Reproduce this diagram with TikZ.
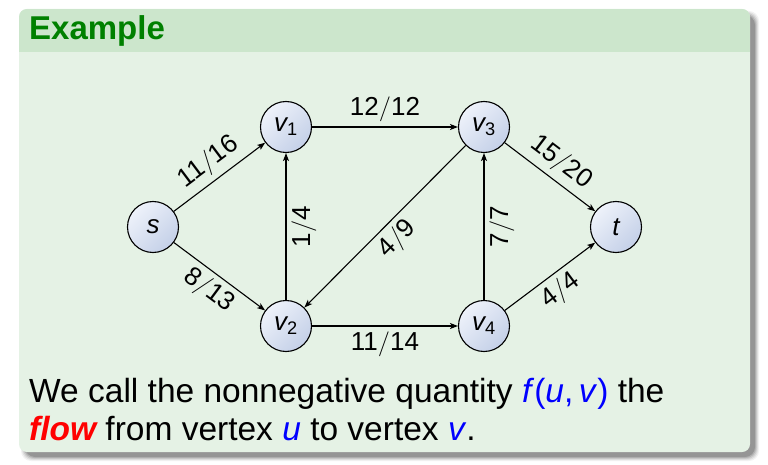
\documentclass[tikz,border=0pt]{standalone}
\usepackage[no-math]{fontspec}
\setmainfont{Liberation Sans}
\usetikzlibrary{arrows.meta}
\definecolor{exgreen}{RGB}{0,128,0}
\definecolor{extitle}{RGB}{204,230,204}
\definecolor{exbody}{RGB}{229,242,229}
\definecolor{balltop}{RGB}{238,242,250}
\definecolor{ballbot}{RGB}{196,208,232}
\newcommand{\fl}[2]{#1$/$#2}
\begin{document}
\begin{tikzpicture}[x=1pt,y=-1pt,
  vert/.style={circle, draw=black, line width=1.1pt, minimum size=51pt, inner sep=0pt,
    top color=balltop, bottom color=ballbot, shading angle=45,
    font=\fontsize{26}{26}\selectfont\itshape},
  flowedge/.style={draw=black, line width=1.1pt, -{Stealth[length=8pt,width=6pt,inset=2pt]}},
  flowlbl/.style={font=\fontsize{26}{26}\selectfont, sloped, midway, inner sep=5pt},
  bodytext/.style={anchor=base west, inner sep=0pt, font=\fontsize{33.5}{37}\selectfont}]
\useasboundingbox (0,0) rectangle (768,465);
\fill[white] (0,0) rectangle (768,465);
% shadow
\foreach \e/\o in {4/0.05, 3/0.07, 2/0.09, 1/0.12, 0/0.16} {
  \fill[black, opacity=\o, rounded corners=10pt] (25-\e,15-\e) rectangle (755+\e,457+\e);
}
% block
\fill[exbody, rounded corners=8pt] (19,9) rectangle (750,452);
\begin{scope}
  \clip[rounded corners=8pt] (19,9) rectangle (750,452);
  \fill[extitle] (19,9) rectangle (750,52);
\end{scope}
\node[anchor=base west, inner sep=0pt, text=exgreen, font=\fontsize{33}{36}\selectfont\bfseries] (title) at (29,40) {Example};
% graph
\node[vert] (s) at (153,227) {s};
\node[vert] (v1) at (286,127) {v\textsubscript{\upshape 1}};
\node[vert] (v2) at (286,326) {v\textsubscript{\upshape 2}};
\node[vert] (v3) at (484,127) {v\textsubscript{\upshape 3}};
\node[vert] (v4) at (484,326) {v\textsubscript{\upshape 4}};
\node[vert] (t) at (616,227) {t};
\draw[flowedge] (s) -- node[flowlbl, above] (l1) {\fl{11}{16}} (v1);
\draw[flowedge] (s) -- node[flowlbl, below] (l2) {\fl{8}{13}} (v2);
\draw[flowedge] (v1) -- node[flowlbl, above] (l3) {\fl{12}{12}} (v3);
\draw[flowedge] (v2) -- node[flowlbl, below] (l4) {\fl{1}{4}} (v1);
\draw[flowedge] (v3) -- node[flowlbl, below] (l5) {\fl{4}{9}} (v2);
\draw[flowedge] (v2) -- node[flowlbl, below] (l6) {\fl{11}{14}} (v4);
\draw[flowedge] (v4) -- node[flowlbl, below] (l7) {\fl{7}{7}} (v3);
\draw[flowedge] (v3) -- node[flowlbl, above] (l8) {\fl{15}{20}} (t);
\draw[flowedge] (v4) -- node[flowlbl, below] (l9) {\fl{4}{4}} (t);
% text
\node[bodytext] (line1) at (29,402) {We call the nonnegative quantity \textcolor{blue}{\textit{f}(\textit{u},\,\textit{v})} the};
\node[bodytext] (line2) at (29,440) {\textcolor{red}{\bfseries\itshape flow} from vertex \textcolor{blue}{\textit{u}} to vertex \textcolor{blue}{\textit{v}}.};
\end{tikzpicture}
\end{document}
